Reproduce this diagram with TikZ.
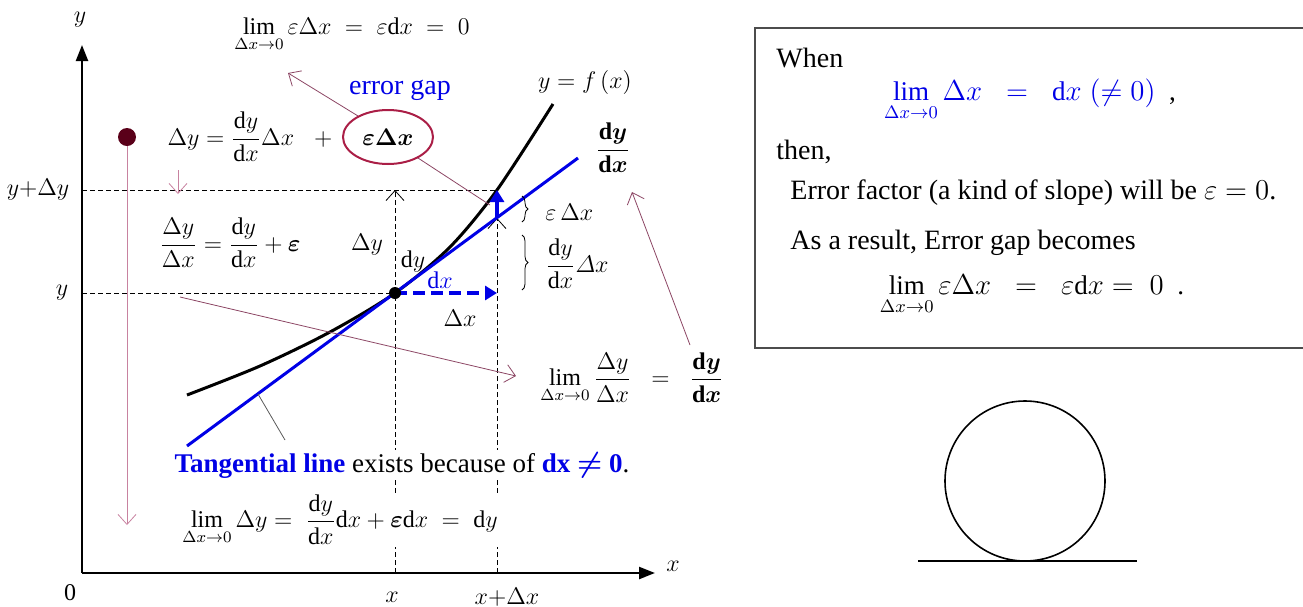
\documentclass[12pt,tikz,border=0pt]{standalone}
\usepackage{amsmath}
\usepackage{fontspec}
\setmainfont{Liberation Serif}
\usepackage{tikz}
\usetikzlibrary{arrows.meta, positioning, shapes.geometric, decorations.pathreplacing}
\definecolor{gapred}{RGB}{170,30,70}
\definecolor{ptrred}{RGB}{140,70,100}
\definecolor{dotred}{RGB}{90,0,25}
\definecolor{pinkline}{RGB}{200,130,160}
\definecolor{myblue}{RGB}{0,0,230}

\begin{document}
\begin{tikzpicture}[x=0.5pt, y=-0.5pt,
        axis/.style = {draw, line width=1.2pt, -{Triangle[length=8pt,width=6pt]}},
        guide/.style = {draw, thin, dash pattern=on 2.5pt off 1.5pt},
        barb/.style = {-{Straight Barb[length=5pt,width=9pt]}},
        pointer/.style = {draw=ptrred, thin, barb},
        bluearrow/.style = {myblue, line width=2pt, -{Triangle[length=6pt,width=7pt]}},
        brace/.style = {decorate, decoration={brace, amplitude=3pt}},
        txt/.style = {font=\fontsize{14}{17}\selectfont},
        leftlab/.style = {anchor=west, inner sep=0pt},
        box/.style = {txt, leftlab}]
    \useasboundingbox (0,0) rectangle (1303,606);

    % axes
    \coordinate (O) at (82,573);
    \coordinate (ytip) at (82,45);
    \coordinate (xtip) at (655,573);
    \draw[axis] (O) -- (ytip);
    \draw[axis] (O) -- (xtip);
    \node (ylab) at (80,20) {$y$};
    \node (xlab) at (673,566) {$x$};
    \node (zero) at (70,593) {0};
    \node (xval) at (392,597) {$x$};
    \node (xdxval) at (507,597) {$x{+}\Delta x$};
    \node (yval) at (62,293) {$y$};
    \node (ydyval) at (38,190) {$y{+}\Delta y$};

    % points on the graph
    \coordinate (P) at (395,293);
    \coordinate (Q) at (497,190);
    \coordinate (T) at (497,218);
    \coordinate (R) at (497,293);
    \coordinate (Px) at (395,573);
    \coordinate (Rx) at (497,573);
    \coordinate (Py) at (82,293);
    \coordinate (Qy) at (82,190);
    \coordinate (Pup) at (395,190);
    \draw[guide] (Qy) -- (Q);
    \draw[guide] (Py) -- (P);
    \draw[guide, barb] (Px) -- (Pup);
    \draw[guide, barb] (Rx) -- (T);

    % curve and tangent
    \draw[line width=1.5pt] plot[smooth] coordinates {(187,395) (260,366) (330,332) (395,293) (450,247) (497,190) (553,104)};
    \coordinate (tanA) at (187,446);
    \coordinate (tanB) at (578,158);
    \draw[myblue, line width=1.5pt] (tanA) -- (tanB);
    \draw[bluearrow, dash pattern=on 6pt off 3pt] (P) -- (R);
    \draw[bluearrow] (T) -- (Q);
    \node[circle, fill, inner sep=0pt, minimum size=6pt] (pt) at (P) {};
    \node (curvelab) at (585,82) {$y = f\,(x)$};
    \node (slope) at (613,148) {$\dfrac{\mathbf{d}\boldsymbol{y}}{\mathbf{d}\boldsymbol{x}}$};
    \node (dylab) at (367,245) {$\Delta y$};
    \node (dydiff) at (413,262) {$\mathrm{d}y$};
    \node[myblue] (dxdiff) at (440,280) {$\mathrm{d}x$};
    \node (dxlab) at (460,318) {$\Delta x$};

    % braces
    \draw[brace] (522,196) -- (522,222);
    \draw[brace] (522,235) -- (522,290);
    \node[leftlab] (epslab) at (545,212) {$\varepsilon\,\Delta x$};
    \node[leftlab] (linlab) at (545,264) {$\dfrac{\mathrm{d}y}{\mathrm{d}x}\varDelta x$};

    % equations on the left
    \node[circle, fill=dotred, inner sep=0pt, minimum size=9pt] (rdot) at (127,137) {};
    \coordinate (rend) at (127,525);
    \draw[pinkline, barb] (rdot) -- (rend);
    \node (eqmain) at (250,137) {$\Delta y = \dfrac{\mathrm{d}y}{\mathrm{d}x}\Delta x \;\;\; +$};
    \node[ellipse, draw=gapred, line width=1pt, minimum width=45pt, minimum height=27pt, inner sep=0pt] (gap) at (388,137) {$\boldsymbol{\varepsilon\Delta x}$};
    \node[txt, myblue] (gaplab) at (400,90) {error gap};
    \node (limtop) at (352,35) {$\lim\limits_{\Delta x\to 0}\varepsilon\Delta x \;=\; \varepsilon\mathrm{d}x \;=\; 0$};
    \coordinate (limtopin) at (288,73);
    \coordinate (gapend) at (490,205);
    \draw[pointer] (gap.145) -- (limtopin);
    \draw[ptrred, thin] (gap.-35) -- (gapend);
    \coordinate (smallA) at (178,170);
    \coordinate (smallB) at (178,194);
    \draw[pinkline, barb] (smallA) -- (smallB);
    \node (eqfrac) at (230,243) {$\dfrac{\Delta y}{\Delta x} = \dfrac{\mathrm{d}y}{\mathrm{d}x} + \boldsymbol{\varepsilon}$};

    % limit of the ratio
    \node (limfrac) at (632,378) {$\lim\limits_{\Delta x\to 0}\dfrac{\Delta y}{\Delta x} \;\;=\;\; \dfrac{\mathbf{d}\boldsymbol{y}}{\mathbf{d}\boldsymbol{x}}$};
    \coordinate (ratioA) at (180,297);
    \coordinate (ratioB) at (516,376);
    \draw[pointer] (ratioA) -- (ratioB);
    \coordinate (slopeA) at (690,345);
    \coordinate (slopeB) at (632,192);
    \draw[pointer] (slopeA) -- (slopeB);

    % tangential line note
    \coordinate (tanpt) at (258,394);
    \coordinate (tannote) at (285,440);
    \draw[gray!70!black, thin] (tanpt) -- (tannote);
    \node[fill=white, inner sep=1pt, font=\fontsize{13.5}{16}\selectfont] (tanlab) at (402,465) {\textcolor{myblue}{\textbf{Tangential line}} exists because of \textcolor{myblue}{\textbf{dx $\boldsymbol{\neq}$ 0}}.};
    \node[fill=white, inner sep=1pt] (limdy) at (340,520) {$\lim\limits_{\Delta x\to 0}\Delta y = \;\dfrac{\mathrm{d}y}{\mathrm{d}x}\mathrm{d}x + \boldsymbol{\varepsilon}\mathrm{d}x \;=\; \mathrm{d}y$};

    % explanation box
    \draw[gray!60!black, line width=1pt] (755,28) rectangle (1312,348);
    \node[box] (when) at (776,58) {When};
    \node[font=\fontsize{13.5}{16}\selectfont] (limdx) at (1030,100) {$\color{myblue}\lim\limits_{\Delta x\to 0}\Delta x \;\;=\;\; \mathrm{d}x\;(\neq 0)$ \ ,};
    \node[box] (then) at (776,152) {then,};
    \node[box] (errfac) at (790,193) {Error factor (a kind of slope) will be $\varepsilon = 0$.};
    \node[box] (result) at (790,243) {As a result, Error gap becomes};
    \node[font=\fontsize{13.5}{16}\selectfont] (limeps) at (1032,295) {$\lim\limits_{\Delta x\to 0}\varepsilon\Delta x \;\;=\;\; \varepsilon\mathrm{d}x = \;0$ \ .};

    % rolling circle
    \node[circle, draw, line width=0.8pt, minimum size=80pt, inner sep=0pt] (wheel) at (1025,481) {};
    \coordinate (floorA) at (918,561);
    \coordinate (floorB) at (1137,561);
    \draw[line width=1pt] (floorA) -- (floorB);
\end{tikzpicture}
\end{document}
